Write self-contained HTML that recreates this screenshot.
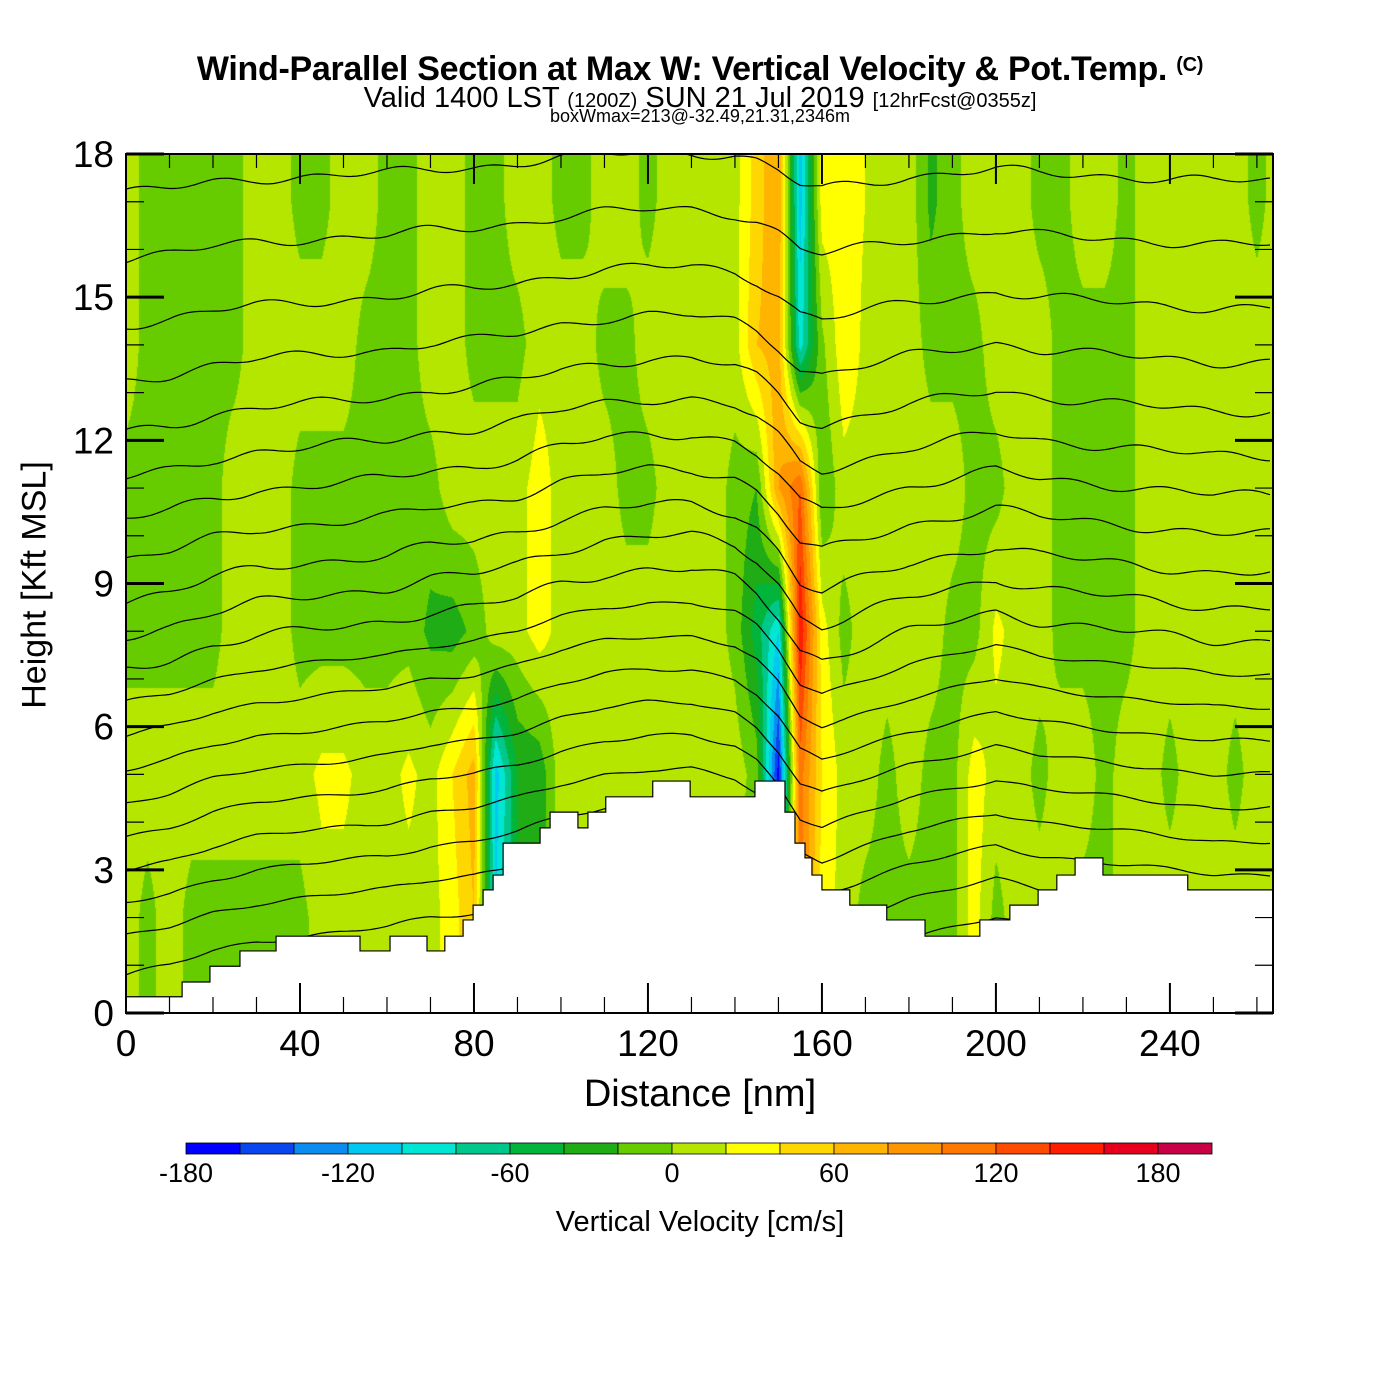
<!DOCTYPE html>
<html><head><meta charset="utf-8">
<style>
html,body{margin:0;padding:0;background:#fff;}
#wrap{position:relative;width:1400px;height:1400px;overflow:hidden;font-family:"Liberation Sans",sans-serif;color:#000;}
.t{position:absolute;white-space:nowrap;}
canvas{position:absolute;left:0;top:0;}
</style></head>
<body>
<div id="wrap">
<div class="t" style="left:0;width:1400px;text-align:center;top:50px;font-size:34px;font-weight:bold;letter-spacing:-0.3px;">Wind-Parallel Section at Max W: Vertical Velocity &amp; Pot.Temp. <span style="font-size:20px;vertical-align:9px">(C)</span></div>
<div class="t" style="left:0;width:1400px;text-align:center;top:82px;font-size:29px;">Valid 1400 LST <span style="font-size:20px">(1200Z)</span> SUN 21 Jul 2019 <span style="font-size:20px">[12hrFcst@0355z]</span></div>
<div class="t" style="left:0;width:1400px;text-align:center;top:106px;font-size:18px;">boxWmax=213@-32.49,21.31,2346m</div>
<canvas id="cv" width="1400" height="1400"></canvas>
<svg id="sv" width="1400" height="1400" style="position:absolute;left:0;top:0"></svg>
<div class="t" style="left:0;width:1400px;text-align:center;top:1073px;font-size:38px;">Distance [nm]</div>
<div class="t" style="left:35px;top:585px;font-size:34px;transform:translate(-50%,-50%) rotate(-90deg);">Height [Kft MSL]</div>
<div class="t" style="left:0;width:1400px;text-align:center;top:1206px;font-size:29px;">Vertical Velocity [cm/s]</div>
</div>
<script>
// ---------- data ----------
const wCols = [0,5,10,15,20,25,30,35,40,45,50,55,60,65,70,75,80,85,90,95,100,105,110,115,120,125,130,135,140,145,150,155,160,165,170,175,180,185,190,195,200,205,210,215,220,225,230,235,240,245,250,255,260,265];
const wRows = [2,5,8,11,14,17];
const wRow2  = [12,-8,12,-8,-8,-8,-8,-8,-8,12,12,12,12,12,12,30,60,-100,-40,-30,12,12,12,12,12,12,12,12,-8,-10,-100,110,30,12,-8,-8,-8,-8,-8,30,-8,12,12,12,-8,-8,12,12,12,12,12,12,12,12];
const wRow5  = [12,12,12,12,12,12,12,12,12,25,25,12,12,25,12,40,70,-110,-40,-35,12,12,12,12,12,12,12,12,12,-10,-170,110,40,12,12,-8,12,-8,-8,30,12,12,-8,12,12,-8,12,12,-8,12,12,-8,12,12];
const wRow8  = [-8,-8,-8,-8,-8,12,12,12,-8,-8,-8,-8,-8,-8,-25,-30,-15,12,12,30,12,12,12,12,12,12,12,12,-8,-50,-100,160,30,-8,12,12,12,12,-8,-8,25,12,12,-8,-8,-8,-8,12,12,12,12,12,12,12];
const wRow11 = [-8,-8,-8,-8,-8,12,12,12,-8,-8,-8,-8,-8,-8,-8,12,12,12,12,30,12,12,12,-8,-8,12,12,12,-8,-20,80,120,-20,12,12,12,12,12,12,-8,-8,12,12,-8,-8,-8,-8,12,12,12,12,12,12,12];
const wRow14 = [12,-8,-8,-8,-8,-8,12,12,12,12,12,-8,-8,-8,12,12,-8,-8,-8,12,12,12,-8,-8,12,12,12,12,12,60,70,-90,-5,35,15,12,12,-8,-8,-8,12,12,12,-8,-8,-8,-8,12,12,12,12,12,12,12];
const wRow17 = [12,-8,-8,-8,-8,-8,12,12,-8,-8,12,12,-8,-8,12,12,-8,-8,12,12,-8,-8,12,12,-8,12,12,12,12,50,80,-110,30,30,20,12,12,-25,-8,12,12,12,-8,-8,12,12,-8,12,12,12,12,12,-8,12];
const wGrid = [wRow2,wRow5,wRow8,wRow11,wRow14,wRow17];
const cbLevels = [-180,-160,-140,-120,-100,-80,-60,-40,-20,0,20,40,60,80,100,120,140,160,180,200];
const cbColors = ["#0000ff","#0a46f0","#0a8cf0","#00c8f0","#00e6d2","#00c88c","#00b43c","#20ac14","#66cc00","#b4e600","#ffff00","#ffd700","#ffb400","#ff9600","#ff7800","#ff4b00","#ff1e00","#e6001e","#c80046"];
const cbLabels = [-180,-120,-60,0,60,120,180];
const thetaBase = [1.8,2.6,3.3,4.0,4.7,5.4,6.1,6.8,7.5,8.2,8.9,9.6,10.4,11.2,12.0,12.9,13.9,15.0,16.3,17.6];
const dispX = [0,10,20,30,40,50,60,70,80,90,100,110,120,130,140,145,150,155,160,170,180,190,200,210,220,230,240,250,260,265];
const dispV = [-1.0,-0.8,-0.5,-0.3,-0.2,-0.1,0,0.2,0.3,0.5,0.8,1.0,1.1,1.1,0.9,0.6,0.1,-0.6,-0.8,-0.5,-0.2,0,0.2,0,-0.1,-0.2,-0.3,-0.4,-0.4,-0.4];
const terrX = [0,12.9,19.3,26.2,34.5,53.8,60.7,69.2,73.3,77.5,79.8,82.1,84.4,86.7,95.2,97.5,103.9,106.2,110.3,121.1,129.7,144.6,151.5,153.8,156.1,157.7,160,166.4,174.9,183.7,196.3,203.2,209.7,214,218.2,224.6,244.1,263.7];
const terrH = [0.34,0.65,0.98,1.30,1.61,1.30,1.61,1.30,1.61,1.95,2.26,2.58,2.89,3.56,3.88,4.21,3.88,4.21,4.53,4.86,4.53,4.86,4.21,3.56,3.25,2.89,2.58,2.26,1.95,1.61,1.95,2.26,2.58,2.89,3.25,2.89,2.58,2.58];
const xTicks = [0,40,80,120,160,200,240];
const yTicks = [0,3,6,9,12,15,18];

// ---------- axes ----------
const PL=126,PR=1273,PT=154,PB=1013, XMAX=263.7, YMAX=18;
const sx = d => PL + d*(PR-PL)/XMAX;
const sy = h => PB - h*(PB-PT)/YMAX;
const ix = px => (px-PL)*XMAX/(PR-PL);
const iy = py => (PB-py)*YMAX/(PB-PT);

function hexRgb(h){return [parseInt(h.substr(1,2),16),parseInt(h.substr(3,2),16),parseInt(h.substr(5,2),16)];}
const cbRgb = cbColors.map(hexRgb);
function colorFor(v){
  let i=Math.floor((v-cbLevels[0])/20);
  if(i<0)i=0; if(i>cbRgb.length-1)i=cbRgb.length-1;
  return cbRgb[i];
}
function interp1(xs,vs,x){
  if(x<=xs[0])return vs[0];
  for(let i=1;i<xs.length;i++){ if(x<=xs[i]){const t=(x-xs[i-1])/(xs[i]-xs[i-1]);return vs[i-1]+(vs[i]-vs[i-1])*t;} }
  return vs[vs.length-1];
}
function wAt(d,h){
  const col = wGrid.map(r=>interp1(wCols,r,d));
  return interp1(wRows,col,h);
}

// ---------- field ----------
const cv=document.getElementById('cv'), ctx=cv.getContext('2d');
const W=PR-PL, H=PB-PT;
const img=ctx.createImageData(W,H);
for(let j=0;j<H;j++){
  const h=iy(PT+j+0.5);
  for(let i=0;i<W;i++){
    const d=ix(PL+i+0.5);
    const c=colorFor(wAt(d,h));
    const k=(j*W+i)*4;
    img.data[k]=c[0];img.data[k+1]=c[1];img.data[k+2]=c[2];img.data[k+3]=255;
  }
}
ctx.putImageData(img,PL,PT);

// ---------- svg overlay ----------
const NS="http://www.w3.org/2000/svg";
const sv=document.getElementById('sv');
function mk(tag,attrs){const e=document.createElementNS(NS,tag);for(const k in attrs)e.setAttribute(k,attrs[k]);return e;}

const gLines=mk('g',{});


sv.appendChild(gLines);
thetaBase.forEach((b,li)=>{
  const wgt = b<9?1:Math.max(0.4,1-(b-9)*0.07);
  let pts=[];
  for(let d=0;d<=XMAX;d+=1){
    const wig = 0.07*Math.sin(d*0.31+li*1.7)+0.05*Math.sin(d*0.13+li);
    let h=b+interp1(dispX,dispV,d)*wgt+wig*(b>8?1:0.5);
    h=Math.min(h,YMAX);
    pts.push(sx(d).toFixed(1)+','+sy(h).toFixed(1));
  }
  const pl=mk('polyline',{points:pts.join(' '),fill:'none',stroke:'#000','stroke-width':1.2});
  
  
  gLines.appendChild(pl);
});

// terrain
let tp=[sx(0)+','+PB];
for(let i=0;i<terrX.length;i++){
  const x0=sx(terrX[i]), x1=sx(i+1<terrX.length?terrX[i+1]:XMAX);
  tp.push(x0+','+sy(terrH[i])); tp.push(x1+','+sy(terrH[i]));
}
tp.push(sx(XMAX)+','+PB);
const terr=mk('polygon',{points:tp.join(' '),fill:'#fff',stroke:'#000','stroke-width':1.2});


sv.appendChild(terr);

// frame
const frame=mk('rect',{x:PL,y:PT,width:PR-PL,height:PB-PT,fill:'none',stroke:'#000','stroke-width':2});


sv.appendChild(frame);

// ticks
const gT=mk('g',{stroke:'#000','stroke-width':1.5});


sv.appendChild(gT);
for(let d=0;d<=XMAX;d+=10){
  const major=d%40===0, x=sx(d);
  gT.appendChild(mk('line',{x1:x,y1:PB,x2:x,y2:PB-(major?30:16),'stroke-width':major?2:1.2}));
  gT.appendChild(mk('line',{x1:x,y1:PT,x2:x,y2:PT+(major?30:14),'stroke-width':major?2:1.2}));
}
for(let h=0;h<=18;h+=1){
  const major=h%3===0, y=sy(h);
  gT.appendChild(mk('line',{x1:PL,y1:y,x2:PL+(major?38:18),y2:y,'stroke-width':major?3:1.2}));
  gT.appendChild(mk('line',{x1:PR,y1:y,x2:PR-(major?38:18),y2:y,'stroke-width':major?3:1.2}));
}
xTicks.forEach(v=>{
  const t=mk('text',{x:sx(v),y:1056,'font-size':37,'text-anchor':'middle','font-family':'Liberation Sans, sans-serif'});
  t.textContent=v;
  
  
  sv.appendChild(t);
});
yTicks.forEach(v=>{
  const t=mk('text',{x:114,y:sy(v)+13,'font-size':37,'text-anchor':'end','font-family':'Liberation Sans, sans-serif'});
  t.textContent=v;
  
  
  sv.appendChild(t);
});

// colorbar
const CB0=186, CBW=54, CBT=1143, CBH=11;
const gCb=mk('g',{});


sv.appendChild(gCb);
cbColors.forEach((c,i)=>{
  const r=mk('rect',{x:CB0+i*CBW,y:CBT,width:CBW,height:CBH,fill:c,stroke:'#000','stroke-width':0.8});
  
  
  gCb.appendChild(r);
});
cbLabels.forEach(v=>{
  const t=mk('text',{x:CB0+(v-cbLevels[0])/20*CBW,y:1182,'font-size':27,'text-anchor':'middle','font-family':'Liberation Sans, sans-serif'});
  t.textContent=v;
  
  
  gCb.appendChild(t);
});
</script>
</body></html>
